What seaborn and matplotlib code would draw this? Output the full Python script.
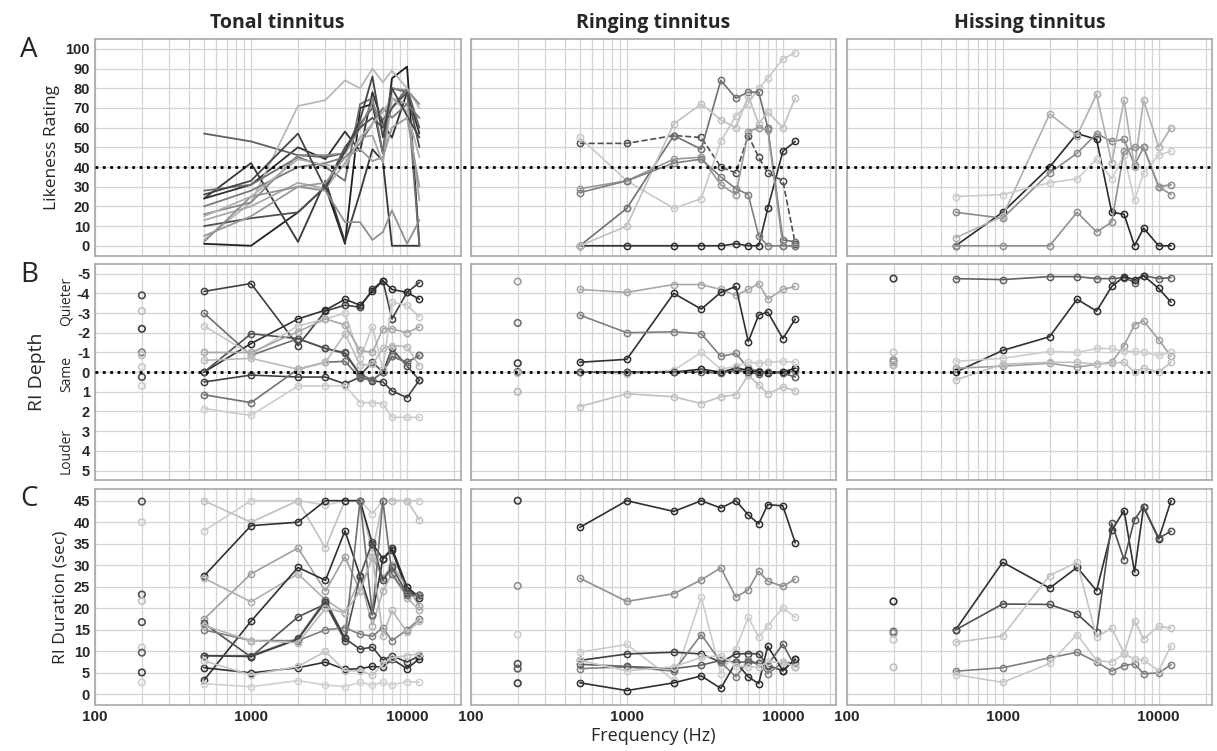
import matplotlib
matplotlib.use("Agg")
import matplotlib.pyplot as plt
import seaborn as sns

FREQS = [500, 1000, 2000, 3000, 4000, 5000, 6000, 7000, 8000, 10000, 12000]
CTRL_FREQ = 200

COLUMNS = ["Tonal tinnitus", "Ringing tinnitus", "Hissing tinnitus"]

# ---- A: likeness rating ----
tonal_likeness = [
    [24, 31, 50, 44, 58, 48, 78, 62, 55, 78, 57],
    [1, 0, 17, 30, 1, 70, 72, 47, 85, 91, 0],
    [57, 53, 46, 45, 47, 62, 70, 64, 70, 80, 60],
    [3, 22, 71, 74, 84, 80, 90, 83, 89, 80, 70],
    [24, 42, 2, 33, 2, 27, 49, 43, 0, 0, 0],
    [28, 31, 45, 40, 33, 72, 75, 47, 80, 78, 0],
    [16, 22, 46, 46, 47, 60, 73, 60, 80, 79, 72],
    [13, 20, 32, 29, 42, 55, 56, 42, 75, 72, 23],
    [10, 14, 17, 30, 50, 60, 65, 60, 70, 78, 50],
    [2, 25, 30, 28, 12, 12, 3, 7, 18, 1, 13],
    [20, 28, 40, 42, 45, 52, 62, 70, 65, 72, 65],
    [15, 25, 44, 41, 40, 55, 62, 68, 75, 68, 45],
    [26, 33, 57, 29, 48, 64, 86, 55, 80, 66, 55],
    [5, 15, 30, 32, 45, 49, 43, 45, 60, 65, 30],
]
tonal_likeness_grays = ["#303030", "#202020", "#606060", "#b8b8b8", "#383838", "#707070",
                        "#888888", "#a8a8a8", "#505050", "#909090", "#7a7a7a", "#b0b0b0",
                        "#454545", "#9a9a9a"]

ringing_likeness = [
    [0, 0, 0, 0, 0, 1, 0, 0, 19, 48, 53],
    [52, 52, 56, 55, 40, 37, 56, 45, 37, 33, 1],
    [55, 33, 19, 24, 53, 66, 72, 80, 85, 95, 98],
    [0, 19, 56, 49, 84, 75, 78, 78, 60, 3, 2],
    [0, 10, 62, 72, 64, 60, 76, 62, 68, 60, 75],
    [29, 33, 44, 45, 31, 26, 58, 60, 59, 0, 0],
    [27, 33, 42, 44, 35, 29, 26, 5, 0, 0, 0],
]
ringing_likeness_grays = ["#303030", "#505050", "#c8c8c8", "#707070", "#c0c0c0", "#989898", "#808080"]
ringing_likeness_dashed = [False, True, False, False, False, False, False]

hissing_likeness = [
    [0, 17, 40, 57, 54, 17, 16, 0, 9, 0, 0],
    [17, 14, 37, 47, 57, 53, 54, 41, 50, 30, 31],
    [4, 15, 67, 56, 77, 42, 74, 40, 74, 50, 60],
    [25, 26, 32, 34, 44, 34, 46, 23, 37, 46, 48],
    [0, 0, 0, 17, 7, 12, 48, 50, 50, 30, 26],
]
hissing_likeness_grays = ["#2a2a2a", "#8a8a8a", "#b0b0b0", "#cccccc", "#909090"]

# ---- B: RI depth ----
tonal_depth = [
    [-4.1, -4.5, -1.35, -3.1, -3.4, -3.3, -4.2, -4.65, -2.7, -4.05, -4.55],
    [-3.0, -0.85, -1.7, -1.2, -1.0, 0.1, 0.4, 0.0, -0.8, -0.5, -0.85],
    [0.0, -1.45, -2.7, -3.15, -3.7, -3.4, -4.1, -4.65, -4.2, -4.05, -3.7],
    [0.0, -1.95, -1.7, -1.2, -0.95, 0.15, -0.5, 0.0, -1.2, -0.3, 0.4],
    [0.5, 0.15, 0.25, 0.25, 0.6, 0.25, 0.45, 0.5, 0.95, 1.3, 0.4],
    [1.15, 1.55, -0.15, -0.5, -0.55, 0.3, 0.4, 0.0, -0.8, -0.5, -0.85],
    [1.85, 2.2, 0.7, 0.7, 0.7, 1.55, 1.55, 1.6, 2.3, 2.3, 2.3],
    [-2.35, -0.9, -2.35, -2.7, -3.0, -0.7, -2.3, -0.15, -3.55, -3.4, -2.8],
    [-1.0, -1.0, -2.05, -2.7, -2.4, -1.1, -1.0, -2.2, -2.2, -2.0, -2.3],
    [-0.6, -0.7, -0.15, -0.5, -1.95, -0.35, -0.4, -1.2, -1.35, -1.3, -0.3],
]
tonal_depth_grays = ["#404040", "#707070", "#303030", "#505050", "#404040", "#707070",
                     "#cccccc", "#c8c8c8", "#a8a8a8", "#bbbbbb"]
tonal_depth_ctrl = [-3.9, -3.1, -2.2, -1.0, -0.85, -0.25, 0.25, 0.7]
tonal_depth_ctrl_grays = ["#505050", "#c0c0c0", "#404040", "#808080", "#c0c0c0", "#c8c8c8", "#505050", "#cccccc"]

ringing_depth = [
    [-4.2, -4.05, -4.45, -4.45, -4.2, -3.9, -4.2, -4.5, -3.7, -4.2, -4.35],
    [-0.5, -0.65, -4.0, -3.2, -4.05, -4.35, -1.55, -2.9, -3.05, -1.7, -2.7],
    [-2.9, -2.0, -2.05, -1.95, -0.8, -0.95, -0.2, -0.05, 0.0, 0.0, -0.05],
    [0.0, 0.0, 0.0, -0.15, 0.0, -0.2, -0.1, 0.0, 0.05, 0.0, -0.2],
    [0.0, 0.1, -0.1, -1.0, -0.15, -0.3, -0.5, -0.45, -0.5, -0.55, -0.5],
    [1.75, 1.1, 1.25, 1.6, 1.25, 1.15, 0.15, 0.65, 1.1, 0.75, 0.95],
    [0.0, 0.0, 0.0, 0.0, 0.05, -0.1, 0.0, 0.1, 0.0, 0.05, 0.25],
]
ringing_depth_grays = ["#a8a8a8", "#303030", "#808080", "#202020", "#cccccc", "#c0c0c0", "#606060"]
ringing_depth_ctrl = [-4.6, -2.5, -0.45, 0.0, 0.05, 1.0]
ringing_depth_ctrl_grays = ["#a0a0a0", "#707070", "#404040", "#404040", "#c0c0c0", "#b8b8b8"]

hissing_depth = [
    [-4.75, -4.7, -4.85, -4.85, -4.75, -4.75, -4.8, -4.55, -4.9, -4.75, -4.8],
    [0.0, -1.1, -1.8, -3.7, -3.1, -4.35, -4.85, -4.7, -4.9, -4.25, -3.55],
    [-0.2, -0.3, -0.45, -0.25, -0.4, -0.5, -1.35, -2.4, -2.6, -1.65, -0.8],
    [-0.55, -0.7, -1.05, -1.0, -1.2, -1.2, -1.05, -1.05, -1.0, -0.85, -1.0],
    [0.4, -0.4, -0.5, -0.5, -0.4, -0.45, -0.5, 0.0, -0.2, 0.0, -0.5],
]
hissing_depth_grays = ["#606060", "#303030", "#a0a0a0", "#cccccc", "#c0c0c0"]
hissing_depth_ctrl = [-4.75, -1.0, -0.6, -0.5, -0.35]
hissing_depth_ctrl_grays = ["#404040", "#c8c8c8", "#909090", "#a0a0a0", "#b0b0b0"]

# ---- C: RI duration ----
tonal_duration = [
    [38, 45, 45, 44, 45, 45, 42, 45, 45, 45, 45],
    [45, 40, 45, 34, 45, 45, 33, 45, 45, 45, 40.5],
    [27.5, 39.2, 40, 45, 45, 45, 35, 31.5, 33.5, 24, 23],
    [17.5, 28, 34, 24, 32, 24, 32, 27, 30, 25, 20.5],
    [27, 21.5, 28, 22, 19, 27, 16, 24, 28, 22.5, 19.5],
    [3.3, 17, 29.5, 26.5, 38, 27.5, 18.5, 31.5, 34, 25, 22.5],
    [16.5, 8.7, 18, 21, 12.5, 27.5, 35.5, 26.5, 29.5, 23.5, 23],
    [9, 9, 13, 22, 13, 45, 18.5, 45, 28, 23, 23],
    [15, 12.5, 12.5, 15, 15.5, 14, 13.5, 15.5, 12.5, 15, 17.5],
    [9, 8.8, 12.8, 21.5, 13, 10.5, 11, 8, 9, 7.5, 9],
    [6.2, 5, 6.2, 7.5, 5.8, 6, 6.5, 6.3, 8.2, 6, 8.3],
    [7.8, 4.5, 6.5, 10, 5.5, 5.5, 4.5, 7, 8.5, 9, 9.5],
    [2.5, 1.8, 3.2, 2.2, 1.8, 2.8, 2.2, 2.8, 2.2, 3, 2.8],
    [16, 12.5, 12, 20, 19, 24, 32, 13.5, 19.5, 14.5, 17],
]
tonal_duration_grays = ["#cccccc", "#c0c0c0", "#303030", "#a0a0a0", "#b0b0b0", "#303030",
                        "#505050", "#707070", "#808080", "#404040", "#303030", "#c4c4c4",
                        "#d0d0d0", "#b8b8b8"]
tonal_duration_ctrl = [44.8, 40, 23.2, 21.7, 16.8, 10.9, 9.7, 5.1, 2.8]
tonal_duration_ctrl_grays = ["#505050", "#cccccc", "#505050", "#c0c0c0", "#505050", "#c8c8c8", "#606060", "#404040", "#d0d0d0"]

ringing_duration = [
    [38.8, 45, 42.5, 45, 43.3, 45, 41.7, 39.6, 44.1, 43.8, 35.2],
    [27, 21.6, 23.4, 26.6, 29.4, 22.6, 24.3, 28.6, 26.3, 25.1, 26.8],
    [9.8, 11.6, 3.3, 22.6, 4.8, 10.6, 17.9, 13.3, 16, 20.1, 17.9],
    [7.9, 9.4, 9.8, 9.4, 7.5, 9.4, 9.5, 9.4, 6.7, 5.5, 8.2],
    [6.0, 6.4, 5.4, 13.9, 7.5, 4.1, 7.9, 7.2, 4.8, 7.5, 7.2],
    [2.7, 0.9, 2.7, 4.3, 1.4, 7.5, 4.1, 2.5, 11.2, 5.5, 8.2],
    [7.0, 6.5, 6.0, 6.8, 7.9, 7.5, 7.5, 7.2, 6.9, 11.7, 6.4],
    [7.9, 5.5, 6.4, 8.6, 9.0, 6.7, 6.4, 6.4, 7.5, 7.5, 6.4],
]
ringing_duration_grays = ["#303030", "#909090", "#cccccc", "#404040", "#808080", "#303030", "#606060", "#c8c8c8"]
ringing_duration_ctrl = [45, 25.2, 13.9, 7.1, 6.0, 2.6]
ringing_duration_ctrl_grays = ["#404040", "#909090", "#d0d0d0", "#505050", "#606060", "#404040"]

hissing_duration = [
    [15, 30.7, 24.7, 29.5, 24.1, 38.1, 42.7, 28.4, 43.5, 36.1, 45],
    [15, 21.0, 20.9, 18.7, 14.6, 39.8, 31.3, 40.6, 43.6, 36.3, 37.9],
    [12.1, 13.6, 27.6, 30.7, 13.3, 15.4, 9.6, 17.1, 12.9, 15.8, 15.4],
    [5.4, 6.2, 8.5, 9.8, 7.5, 5.4, 6.7, 7.1, 4.8, 5.0, 6.9],
    [4.6, 2.8, 7.2, 13.9, 7.9, 7.5, 9.4, 8.2, 8.0, 5.5, 11.3],
]
hissing_duration_grays = ["#303030", "#505050", "#c4c4c4", "#808080", "#c8c8c8"]
hissing_duration_ctrl = [21.6, 14.6, 14.2, 12.7, 6.3]
hissing_duration_ctrl_grays = ["#303030", "#707070", "#909090", "#c8c8c8", "#c0c0c0"]

sns.set_style("white")
plt.rcParams["font.family"] = ["Open Sans", "DejaVu Sans"]

fig, axes = plt.subplots(3, 3, figsize=(12.17, 7.51), dpi=100, sharex=True)
fig.subplots_adjust(left=0.078, right=0.996, top=0.948, bottom=0.061, wspace=0.028, hspace=0.038)

tick_font = {"family": "Liberation Sans", "weight": "bold", "size": 10.5}


def draw_lines(ax, series, grays, markers=True, dashed=None):
    for i, vals in enumerate(series):
        ls = "--" if (dashed is not None and dashed[i]) else "-"
        if markers:
            sns.lineplot(x=FREQS, y=vals, ax=ax, color=grays[i], lw=1.2, linestyle=ls,
                         marker="o", markersize=4.5, markerfacecolor="none",
                         markeredgecolor=grays[i], markeredgewidth=1.1)
        else:
            sns.lineplot(x=FREQS, y=vals, ax=ax, color=grays[i], lw=1.3, linestyle=ls)


def draw_ctrl(ax, vals, grays):
    for v, g in zip(vals, grays):
        sns.scatterplot(x=[CTRL_FREQ], y=[v], ax=ax, s=22, facecolors="none",
                        edgecolor=g, linewidth=1.2, zorder=3)


draw_lines(axes[0, 0], tonal_likeness, tonal_likeness_grays, markers=False)
draw_lines(axes[0, 1], ringing_likeness, ringing_likeness_grays, dashed=ringing_likeness_dashed)
draw_lines(axes[0, 2], hissing_likeness, hissing_likeness_grays)

draw_lines(axes[1, 0], tonal_depth, tonal_depth_grays)
draw_lines(axes[1, 1], ringing_depth, ringing_depth_grays)
draw_lines(axes[1, 2], hissing_depth, hissing_depth_grays)
draw_ctrl(axes[1, 0], tonal_depth_ctrl, tonal_depth_ctrl_grays)
draw_ctrl(axes[1, 1], ringing_depth_ctrl, ringing_depth_ctrl_grays)
draw_ctrl(axes[1, 2], hissing_depth_ctrl, hissing_depth_ctrl_grays)

draw_lines(axes[2, 0], tonal_duration, tonal_duration_grays)
draw_lines(axes[2, 1], ringing_duration, ringing_duration_grays)
draw_lines(axes[2, 2], hissing_duration, hissing_duration_grays)
draw_ctrl(axes[2, 0], tonal_duration_ctrl, tonal_duration_ctrl_grays)
draw_ctrl(axes[2, 1], ringing_duration_ctrl, ringing_duration_ctrl_grays)
draw_ctrl(axes[2, 2], hissing_duration_ctrl, hissing_duration_ctrl_grays)

row_ylims = [(-5, 105), (5.5, -5.5), (-2.5, 47.8)]
row_yticks = [list(range(0, 101, 10)), list(range(-5, 6)), list(range(0, 46, 5))]
row_ref = [40, 0, None]
row_letters = ["A", "B", "C"]

for r in range(3):
    for c in range(3):
        ax = axes[r, c]
        ax.set_xscale("log")
        ax.set_xlim(100, 22000)
        ax.set_ylim(*row_ylims[r])
        ax.set_yticks(row_yticks[r])
        ax.grid(True, which="major", color="#d4d4d4", lw=0.9)
        ax.grid(True, which="minor", axis="x", color="#d4d4d4", lw=0.9)
        ax.tick_params(which="both", direction="in", length=3, color="#999999")
        for sp in ax.spines.values():
            sp.set_color("#a8a8a8")
            sp.set_linewidth(1.2)
        ax.set_xlabel("")
        ax.set_ylabel("")
        if c == 0:
            ax.set_yticklabels([str(t) for t in row_yticks[r]], fontdict=tick_font)
        else:
            ax.set_yticklabels([])
        if r == 2:
            ax.set_xticks([100, 1000, 10000])
            ax.set_xticklabels(["100", "1000", "10000"], fontdict={"family": "Liberation Sans", "weight": "bold", "size": 11})
        else:
            ax.tick_params(axis="x", labelbottom=False)
        if row_ref[r] is not None:
            lo = 0 if c == 0 else -0.02
            hi = 1 if c == 2 else 1.02
            ax.axhline(row_ref[r], xmin=lo, xmax=hi, color="black", ls=":", lw=2, clip_on=False, zorder=5)
        if r == 0:
            ax.set_title(COLUMNS[c], fontsize=14, fontweight="bold", pad=8)

axes[0, 0].set_ylabel("Likeness Rating", fontsize=12.5, labelpad=4)
axes[1, 0].set_ylabel("RI Depth", fontsize=14, labelpad=22)
axes[2, 0].set_ylabel("RI Duration (sec)", fontsize=12.5, labelpad=4)
axes[2, 1].set_xlabel("Frequency (Hz)", fontsize=13, labelpad=2)

# side labels for the depth scale
for txt, yv in [("Quieter", -3.6), ("Same", 0.1), ("Louder", 4.0)]:
    axes[1, 0].text(-0.078, yv, txt, transform=axes[1, 0].get_yaxis_transform(), rotation=90,
                    ha="center", va="center", fontsize=10, family="Open Sans")

for letter, ax in zip(row_letters, axes[:, 0]):
    ax.text(-0.205, 0.95, letter, transform=ax.transAxes, fontsize=20, family="Open Sans",
            ha="left", va="center")

fig.savefig("out.png", dpi=100)
